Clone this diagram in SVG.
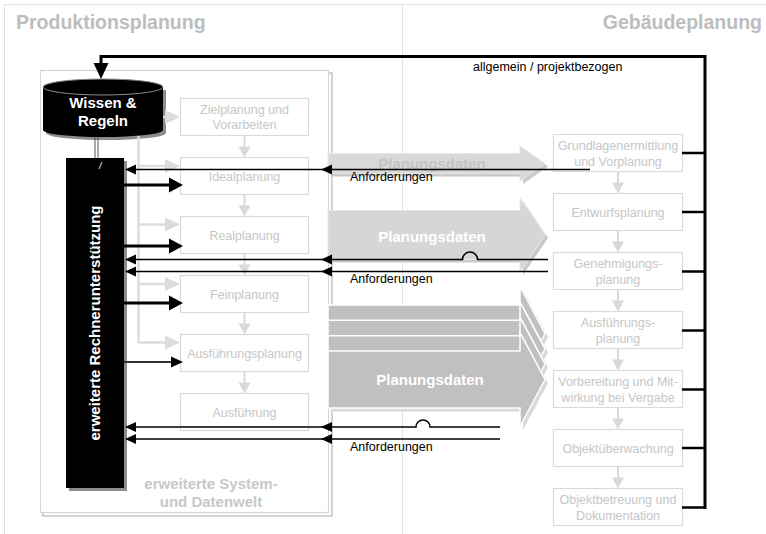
<svg xmlns="http://www.w3.org/2000/svg" xmlns:xlink="http://www.w3.org/1999/xlink" width="766" height="534" viewBox="0 0 766 534">
  <style>
    text { font-family: "Liberation Sans", Arial, sans-serif; }
    .title { font-size: 19.5px; font-weight: bold; fill: #bdbdbd; }
    .box { fill: #ffffff; stroke: #dadada; stroke-width: 1.2; }
    .boxtxt { font-size: 12.5px; fill: #c6c6c6; text-anchor: middle; }
    .lbl { font-size: 12.5px; fill: #000000; }
    .bold15 { font-size: 15px; font-weight: bold; text-anchor: middle; }
    .flow { stroke: #d9d9d9; stroke-width: 2; fill: none; }
    .flowhead { fill: #d9d9d9; }
    .feed { stroke: #dcdcdc; stroke-width: 2.5; fill: none; }
    .feedhead { fill: #dcdcdc; }
    .blk { stroke: #000000; fill: none; }
    .req { stroke: #000000; stroke-width: 1.5; fill: none; }
  </style>
  <defs>
    <path id="ahL" d="M0,0 L11,-5 L11,5 Z" fill="#000000"/>
    <path id="ahR" d="M0,0 L-14,-7.5 L-14,7.5 Z" fill="#000000"/>
    <path id="fhR" d="M0,0 L-15,-7 L-15,7 Z" class="feedhead"/>
    <path id="fhD" d="M0,0 L-6,-11 L6,-11 Z" class="flowhead"/>
    <!-- large data arrow, body half-height 28.5, head half-height 47 -->
    <path id="bigArrow" d="M328,-28.5 L520,-28.5 L520,-47 L545,0 L520,47 L520,28.5 L328,28.5 Z"/>
  </defs>

  <!-- background and frame -->
  <rect x="0" y="0" width="766" height="534" fill="#ffffff"/>
  <rect x="4.5" y="4.5" width="770" height="540" fill="none" stroke="#e2e2e2" stroke-width="1"/>
  <line x1="402.5" y1="4.5" x2="402.5" y2="534" stroke="#e2e2e2" stroke-width="1"/>

  <text class="title" x="16" y="29">Produktionsplanung</text>
  <text class="title" x="762" y="29" text-anchor="end">Gebäudeplanung</text>

  <!-- system and data world frame -->
  <g id="systemwelt">
    <rect x="43" y="73" width="289" height="443" fill="none" stroke="#c4c4c4" stroke-width="1.5"/>
    <rect x="40.5" y="70.5" width="288" height="442" fill="#ffffff" stroke="#d6d6d6" stroke-width="1.2"/>
    <text class="bold15" x="211" y="489" fill="#c8c8c8">erweiterte System-</text>
    <text class="bold15" x="211" y="507" fill="#c8c8c8">und Datenwelt</text>
  </g>

  <!-- production planning steps -->
  <g id="zielplanung">
    <rect class="box" x="180.5" y="98.5" width="128" height="37"/>
    <text class="boxtxt" x="244.5" y="114">Zielplanung und</text>
    <text class="boxtxt" x="244.5" y="129">Vorarbeiten</text>
  </g>
  <g id="idealplanung">
    <rect class="box" x="180.5" y="157.5" width="128" height="37"/>
    <text class="boxtxt" x="244.5" y="180.5">Idealplanung</text>
  </g>
  <g id="realplanung">
    <rect class="box" x="180.5" y="216.5" width="128" height="37"/>
    <text class="boxtxt" x="244.5" y="239.5">Realplanung</text>
  </g>
  <g id="feinplanung">
    <rect class="box" x="180.5" y="275.5" width="128" height="37"/>
    <text class="boxtxt" x="244.5" y="298.5">Feinplanung</text>
  </g>
  <g id="ausfuehrungsplanung">
    <rect class="box" x="180.5" y="334.5" width="128" height="37"/>
    <text class="boxtxt" x="244.5" y="357.5">Ausführungsplanung</text>
  </g>
  <g id="ausfuehrung">
    <rect class="box" x="180.5" y="393.5" width="128" height="37"/>
    <text class="boxtxt" x="244.5" y="416.5">Ausführung</text>
  </g>

  <!-- building planning phases -->
  <g id="grundlagen">
    <rect class="box" x="553.5" y="134.5" width="129" height="37"/>
    <text class="boxtxt" x="618" y="150">Grundlagenermittlung</text>
    <text class="boxtxt" x="618" y="166">und Vorplanung</text>
  </g>
  <g id="entwurf">
    <rect class="box" x="553.5" y="193.5" width="129" height="37"/>
    <text class="boxtxt" x="618" y="216.5">Entwurfsplanung</text>
  </g>
  <g id="genehmigung">
    <rect class="box" x="553.5" y="252.5" width="129" height="37"/>
    <text class="boxtxt" x="618" y="268">Genehmigungs-</text>
    <text class="boxtxt" x="618" y="284">planung</text>
  </g>
  <g id="ausfuehrungsplanung-geb">
    <rect class="box" x="553.5" y="311.5" width="129" height="37"/>
    <text class="boxtxt" x="618" y="327">Ausführungs-</text>
    <text class="boxtxt" x="618" y="343">planung</text>
  </g>
  <g id="vergabe">
    <rect class="box" x="553.5" y="370.5" width="129" height="37"/>
    <text class="boxtxt" x="618" y="386">Vorbereitung und Mit-</text>
    <text class="boxtxt" x="618" y="402">wirkung bei Vergabe</text>
  </g>
  <g id="objektueberwachung">
    <rect class="box" x="553.5" y="429.5" width="129" height="37"/>
    <text class="boxtxt" x="618" y="452.5">Objektüberwachung</text>
  </g>
  <g id="objektbetreuung">
    <rect class="box" x="553.5" y="488.5" width="129" height="37"/>
    <text class="boxtxt" x="618" y="504">Objektbetreuung und</text>
    <text class="boxtxt" x="618" y="520">Dokumentation</text>
  </g>

  <!-- data transfer arrows -->
  <g id="planungsdaten-1">
    <path d="M331,156.5 L523,156.5 L523,149 L548,166.5 L523,184 L523,176.5 L331,176.5 Z" fill="#cacaca"/>
    <path d="M328,153.5 L520,153.5 L520,146 L545,163.5 L520,181 L520,173.5 L328,173.5 Z" fill="#d9d9d9" stroke="#e6e6e6" stroke-width="1"/>
    <text class="bold15" x="432" y="168.5" fill="#c4c4c4">Planungsdaten</text>
  </g>
  <g id="planungsdaten-2">
    <path d="M331,213.5 L523,213.5 L523,201 L548,238 L523,275 L523,262.5 L331,262.5 Z" fill="#cacaca"/>
    <path d="M328,210.5 L520,210.5 L520,198 L545,235 L520,272 L520,259.5 L328,259.5 Z" fill="#d6d6d6" stroke="#e6e6e6" stroke-width="1"/>
    <text class="bold15" x="432" y="241.5" fill="#ffffff">Planungsdaten</text>
  </g>
  <g id="planungsdaten-3">
    <use xlink:href="#bigArrow" transform="translate(3,337)" fill="#d9d9d9"/>
    <use xlink:href="#bigArrow" transform="translate(0,333.5)" fill="#c0c0c0" stroke="#ffffff" stroke-width="1.5"/>
    <use xlink:href="#bigArrow" transform="translate(3,352)" fill="#d9d9d9"/>
    <use xlink:href="#bigArrow" transform="translate(0,348.8)" fill="#c0c0c0" stroke="#ffffff" stroke-width="1.5"/>
    <use xlink:href="#bigArrow" transform="translate(3,367.5)" fill="#d9d9d9"/>
    <use xlink:href="#bigArrow" transform="translate(0,364.2)" fill="#c0c0c0" stroke="#ffffff" stroke-width="1.5"/>
    <use xlink:href="#bigArrow" transform="translate(3,383)" fill="#d9d9d9"/>
    <use xlink:href="#bigArrow" transform="translate(0,379.5)" fill="#c0c0c0" stroke="#ffffff" stroke-width="1.5"/>
    <text class="bold15" x="430" y="385" fill="#ffffff">Planungsdaten</text>
  </g>

  <!-- knowledge base -->
  <g id="wissen-regeln">
    <path d="M46,90 L46,133 A60,7 0 0 0 166,133 L166,90 Z" fill="#8c8c8c"/>
    <path d="M43,87 L43,130 A60,7 0 0 0 163,130 L163,87 Z" fill="#000000"/>
    <ellipse cx="103" cy="87" rx="60" ry="8" fill="#000000" stroke="#8a8a8a" stroke-width="1"/>
    <text class="bold15" x="103" y="108" fill="#ffffff">Wissen &amp;</text>
    <text class="bold15" x="103" y="126" fill="#ffffff">Regeln</text>
  </g>

  <!-- extended computer support -->
  <g id="rechnerunterstuetzung">
    <rect x="69" y="161" width="58" height="330" fill="#8c8c8c"/>
    <rect x="66" y="158" width="58" height="330" fill="#000000"/>
    <line x1="99" y1="169" x2="102" y2="162" stroke="#9a9a9a" stroke-width="1.5"/>
    <text class="bold15" transform="translate(100,323) rotate(-90)" fill="#ffffff">erweiterte Rechnerunterstützung</text>
  </g>

  <g id="connectors">
    <!-- knowledge base to computer support -->
    <line x1="95" y1="137" x2="95" y2="158" stroke="#555555" stroke-width="1"/>
    <line x1="98" y1="137" x2="98" y2="158" stroke="#555555" stroke-width="1"/>

    <!-- sequence arrows, production planning -->
    <line class="flow" x1="244.5" y1="136" x2="244.5" y2="147"/>
    <use xlink:href="#fhD" x="244.5" y="157.5"/>
    <line class="flow" x1="244.5" y1="195" x2="244.5" y2="206"/>
    <use xlink:href="#fhD" x="244.5" y="216.5"/>
    <line class="flow" x1="244.5" y1="254" x2="244.5" y2="265"/>
    <use xlink:href="#fhD" x="244.5" y="275.5"/>
    <line class="flow" x1="244.5" y1="313" x2="244.5" y2="324"/>
    <use xlink:href="#fhD" x="244.5" y="334.5"/>
    <line class="flow" x1="244.5" y1="372" x2="244.5" y2="383"/>
    <use xlink:href="#fhD" x="244.5" y="393.5"/>

    <!-- sequence arrows, building planning -->
    <line class="flow" x1="618" y1="172" x2="618" y2="183"/>
    <use xlink:href="#fhD" x="618" y="193.5"/>
    <line class="flow" x1="618" y1="231" x2="618" y2="242"/>
    <use xlink:href="#fhD" x="618" y="252.5"/>
    <line class="flow" x1="618" y1="290" x2="618" y2="301"/>
    <use xlink:href="#fhD" x="618" y="311.5"/>
    <line class="flow" x1="618" y1="349" x2="618" y2="360"/>
    <use xlink:href="#fhD" x="618" y="370.5"/>
    <line class="flow" x1="618" y1="408" x2="618" y2="419"/>
    <use xlink:href="#fhD" x="618" y="429.5"/>
    <line class="flow" x1="618" y1="467" x2="618" y2="478"/>
    <use xlink:href="#fhD" x="618" y="488.5"/>

    <!-- knowledge feed into planning steps -->
    <line class="feed" x1="163" y1="117" x2="166" y2="117"/>
    <use xlink:href="#fhR" x="180" y="117"/>
    <path class="feed" d="M138.5,136 L138.5,343"/>
    <line class="feed" x1="138.5" y1="166" x2="166" y2="166"/>
    <use xlink:href="#fhR" x="180" y="166"/>
    <line class="feed" x1="138.5" y1="224.5" x2="166" y2="224.5"/>
    <use xlink:href="#fhR" x="180" y="224.5"/>
    <line class="feed" x1="138.5" y1="284" x2="166" y2="284"/>
    <use xlink:href="#fhR" x="180" y="284"/>
    <line class="feed" x1="138.5" y1="342.5" x2="166" y2="342.5"/>
    <use xlink:href="#fhR" x="180" y="342.5"/>

    <!-- computer support into planning steps -->
    <line class="blk" stroke-width="3" x1="124" y1="185" x2="170" y2="185"/>
    <use xlink:href="#ahR" x="183" y="185"/>
    <line class="blk" stroke-width="3" x1="124" y1="246" x2="170" y2="246"/>
    <use xlink:href="#ahR" x="183" y="246"/>
    <line class="blk" stroke-width="3" x1="124" y1="303" x2="170" y2="303"/>
    <use xlink:href="#ahR" x="183" y="303"/>
    <line x1="124" y1="362" x2="172" y2="362" stroke="#333333" stroke-width="2"/>
    <path d="M183,362 L171,356.5 L171,367.5 Z" fill="#000000"/>

    <!-- general / project related feedback -->
    <path class="blk" stroke-width="3" d="M101,64 L101,56.5 L705,56.5 L705,509"/>
    <path d="M101,79 L93.5,63 L108.5,63 Z" fill="#000000"/>
    <path class="blk" stroke-width="2.5" d="M682,153 L705,153 M682,212 L705,212 M682,271.5 L705,271.5 M682,330.5 L705,330.5 M682,389.5 L705,389.5 M682,448 L705,448 M682,507.5 L705,507.5"/>
    <text class="lbl" x="473" y="71">allgemein / projektbezogen</text>

    <!-- requirements -->
    <line class="req" x1="590" y1="169.5" x2="128" y2="169.5"/>
    <use xlink:href="#ahL" x="321" y="169.5"/>
    <use xlink:href="#ahL" x="125" y="169.5"/>
    <text class="lbl" x="350" y="181">Anforderungen</text>

    <path class="req" d="M548,259.5 L477.5,259.5 A7.5,7.5 0 0 0 462.5,259.5 L128,259.5"/>
    <use xlink:href="#ahL" x="321" y="259.5"/>
    <use xlink:href="#ahL" x="125" y="259.5"/>
    <line class="req" x1="548" y1="271.5" x2="128" y2="271.5"/>
    <use xlink:href="#ahL" x="321" y="271.5"/>
    <use xlink:href="#ahL" x="125" y="271.5"/>
    <text class="lbl" x="350" y="282.5">Anforderungen</text>

    <path class="req" d="M500,427 L430,427 A7,7 0 0 0 416,427 L128,427"/>
    <use xlink:href="#ahL" x="321" y="427"/>
    <use xlink:href="#ahL" x="125" y="427"/>
    <line class="req" x1="500" y1="439" x2="128" y2="439"/>
    <use xlink:href="#ahL" x="321" y="439"/>
    <use xlink:href="#ahL" x="125" y="439"/>
    <text class="lbl" x="350" y="451">Anforderungen</text>
  </g>
</svg>
